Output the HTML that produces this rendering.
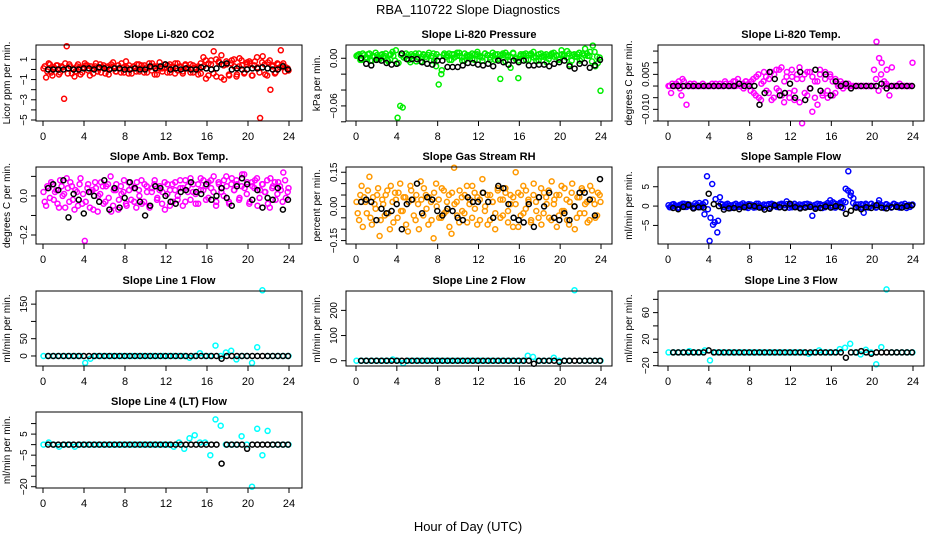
<!DOCTYPE html>
<html><head><meta charset="utf-8"><style>
html,body{margin:0;padding:0;background:#fff;}
svg{display:block;font-family:"Liberation Sans",sans-serif;}
</style></head><body>
<svg id="c" width="936" height="540" viewBox="0 0 936 540">
<text x="468" y="14" text-anchor="middle" font-size="13">RBA_110722  Slope Diagnostics</text>
<text x="468" y="531" text-anchor="middle" font-size="13">Hour of Day (UTC)</text>
</svg>
<script>
const xTicks=[0,4,8,12,16,20,24];
const co2Color=[0.1,-0.8,0.6,-0.3,0.2,0.4,-0.5,0.3,-2.9,2.3,0.5,-0.4,-0.7,0.3,0.2,-0.3,0.6,0.4,-0.6,0.1,0.3,-0.2,0.5,0.2,-0.4,0.3,0.1,0.7,-0.2,0.4,-0.3,0.2,0.8,-0.4,0.1,0.3,-0.2,0.5,0.4,-0.3,0.2,0.6,-0.1,0.3,-0.5,0.7,0.1,0.2,-0.3,0.5,0.3,-0.4,0.6,0.2,-0.2,0.4,0.1,0.5,-0.3,0.2,0.3,-0.4,1.2,-0.9,0.6,0.9,1.8,-0.7,0.8,1.4,-1.0,0.5,-0.6,0.9,0.3,-0.5,1.1,0.4,-0.3,0.7,0.6,-0.6,0.8,0.2,-4.8,1.3,-0.5,0.7,-2.0,0.4,-0.3,0.5,1.9,0.6,0.2,-0.1];
const co2Color2=[0.3,-0.2,0.5,-0.6,0.1,0.4,-0.3,0.2,0.6,-0.4,0.3,0.1,-0.2,0.5,-0.5,0.2,0.4,-0.1,0.3,-0.4,0.6,0.1,-0.3,0.4,0.2,-0.5,0.5,0.3,-0.2,0.1,0.6,-0.3,0.2,0.4,-0.4,0.3,0.5,-0.2,0.1,0.4,-0.3,0.2,0.6,-0.5,0.3,0.1,-0.2,0.5,0.4,-0.3,0.2,0.6,-0.1,0.3,-0.4,0.5,0.2,-0.3,0.4,0.1,-0.5,0.6,0.3,0.9,-0.6,0.5,-0.4,1.0,0.7,-0.8,0.4,0.8,-0.5,0.6,1.0,-0.7,0.3,0.9,-0.4,0.5,0.8,-0.6,0.4,1.2,-0.3,0.7,0.5,-0.6,0.9,0.3,-0.4,0.6,0.2,0.4,-0.2,0.1];
const co2Black=[0,0,0,0,0.1,0,0,0.1,0.1,0,0.2,0.1,0,0.1,0.1,0,0,0.1,0,0,0.3,0.1,0.3,0.5,0,0.1,0,0.1,0,0,0.2,0.1,0,0.1,0.5,0.6,0,0.1,0,0,0.1,0.1,0.2,0.1,0,0,0.3,0];
const presColor=[0.003,0.005,-0.002,0.004,0.001,0.006,-0.003,0.002,0.004,-0.001,0.005,0.003,-0.002,0.004,0.008,-0.003,-0.075,-0.06,-0.062,0.002,0.004,-0.005,0.003,0.006,0.001,-0.004,0.005,0.002,0.004,-0.003,0.006,-0.01,-0.033,-0.02,0.004,0.002,0.006,-0.002,0.005,0.003,0.007,0.001,-0.003,0.004,0.002,0.006,-0.002,0.005,0.003,0.001,0.006,0.004,-0.002,0.003,0.005,-0.001,-0.026,0.004,0.007,0.002,-0.012,0.006,-0.001,-0.025,0.003,0.005,-0.002,0.004,0.006,0.001,-0.003,0.005,0.002,0.004,-0.005,0.003,0.006,0.002,0.004,-0.001,0.005,0.003,0.009,-0.008,0.004,0.002,0.005,-0.003,0.006,0.012,0.003,0.008,0.016,-0.01,-0.006,-0.041];
const presColor2=[0.004,-0.002,0.006,0.001,0.005,-0.003,0.003,0.007,-0.001,0.004,0.002,0.006,-0.004,0.005,0.003,0.010,-0.006,0.004,0.001,0.006,-0.002,0.005,0.003,-0.004,0.006,0.002,0.004,-0.001,0.007,0.003,-0.003,0.005,0.002,-0.015,0.006,0.004,-0.002,0.005,0.001,0.007,0.003,-0.003,0.006,0.002,0.004,-0.001,0.005,0.008,0.002,-0.003,0.006,0.004,0.001,0.007,-0.002,0.005,0.003,0.006,-0.004,0.004,0.002,0.007,0.001,-0.003,0.005,0.003,0.006,-0.002,0.004,0.008,0.001,-0.003,0.006,0.002,0.005,-0.001,0.004,0.007,0.003,-0.002,0.010,0.004,0.001,0.006,-0.003,0.005,0.002,0.007,-0.001,0.004,0.006,0.003,-0.004,0.008,0.002,0.001];
const presBlack=[0.0,-0.007,-0.009,-0.002,-0.003,-0.006,-0.008,-0.007,0.006,-0.001,-0.001,-0.001,-0.005,-0.007,-0.008,-0.003,-0.003,-0.011,-0.011,-0.011,-0.009,-0.006,-0.006,-0.008,-0.009,-0.007,-0.01,-0.003,-0.005,-0.008,-0.003,-0.005,-0.003,-0.009,-0.009,-0.008,-0.008,-0.01,-0.007,-0.005,-0.003,-0.01,-0.013,-0.007,-0.006,-0.012,-0.009,-0.002];
const tempColor=[0,-0.003,0,0.001,0.002,-0.004,0.002,-0.008,0,0,0.001,0,0,0,0,0,0,0.001,0,0,0.001,0,0.002,0,0.001,0,0.002,0.003,0,0.001,0.002,0,-0.002,0.003,-0.004,0.005,-0.006,0.002,0.004,-0.003,0.006,-0.005,0.007,-0.002,0.008,-0.007,0.004,-0.003,0.007,-0.006,0.003,0.008,-0.016,0.005,-0.004,0.006,-0.011,0.002,-0.008,0.005,-0.003,0.006,-0.005,0.004,-0.004,0.003,0,0.002,-0.001,0,0.001,0,0,0,0,0,0,0,0,0,0.007,0.019,0.012,0.01,0.002,0.007,-0.004,0.008,0,0,0.001,0,0,0,0,0.01];
const tempColor2=[0,0.001,0,0,-0.001,0.003,0,0,0.001,0,0,0,0,0.001,0,0,0,0,0.001,0,0,0,0.001,0,0,0.002,0,0.001,0,-0.001,0.002,0.001,0.002,-0.003,0.004,-0.005,0.001,0.006,-0.002,0.003,-0.006,0.005,-0.001,0.007,-0.004,0.002,0.006,-0.005,0.004,-0.002,0.005,-0.007,0.003,-0.003,0.006,-0.001,0.004,-0.005,0.002,0.007,-0.004,0.003,-0.002,0.005,0.002,-0.003,0.001,0,0.001,0,0,0,0,0,0,0,0,0,0,0,0,0.003,-0.002,0.005,0,0.001,0,0,0,0,0,0,0,0,0,0];
const tempBlack=[0,0,0,0,0,0,0,0,0,0,0,0,0,0.001,0,0,0,-0.008,-0.003,0.006,0.003,-0.004,-0.003,0.001,-0.005,0.006,-0.006,-0.001,0.007,-0.002,0.005,-0.004,0.002,0,0.001,-0.001,0,0,0,0,0,0.001,-0.001,0,0,0,0,0];
const ambColor=[0.02,-0.05,0.04,0.07,-0.02,0.03,-0.06,0.05,0.01,0.09,-0.03,0.05,-0.07,0.02,0.06,-0.04,-0.23,0.04,-0.06,0.03,0.07,-0.08,0.01,0.05,-0.03,0.06,0.1,-0.05,0.03,-0.07,0.05,0.02,-0.04,0.07,-0.02,0.04,-0.06,0.03,0.08,-0.03,0.05,-0.05,0.02,0.06,-0.02,0.03,-0.04,0.07,0.01,-0.05,0.06,0.03,-0.02,0.08,0.04,-0.03,0.05,0.09,0.02,-0.04,0.06,0.03,0.08,-0.02,0.07,0.04,0.1,-0.03,0.06,0.02,0.08,0.05,-0.04,0.09,0.03,0.06,-0.01,0.11,0.04,0.07,-0.03,0.05,0.08,-0.05,0.03,0.06,0.02,-0.04,0.09,0.05,-0.02,0.07,0.03,0.12,-0.01,0.04];
const ambColor2=[-0.03,0.05,-0.01,0.06,0.02,-0.04,0.08,0.0,-0.06,0.04,0.07,-0.02,0.03,-0.05,0.09,0.01,-0.03,0.06,0.02,-0.07,0.04,0.0,0.07,-0.04,0.05,-0.01,-0.08,0.03,0.06,-0.02,0.01,0.08,-0.05,0.03,0.05,-0.03,0.07,0.0,-0.04,0.06,0.02,-0.06,0.04,0.08,-0.01,0.05,0.02,-0.07,0.06,0.03,-0.03,0.07,0.0,0.04,-0.05,0.08,0.02,-0.02,0.06,0.01,-0.04,0.09,0.03,0.05,-0.01,0.08,0.02,-0.05,0.07,0.04,0.0,0.1,-0.03,0.06,0.03,0.08,-0.02,0.05,0.11,0.01,-0.04,0.07,0.04,0.09,-0.01,0.06,0.02,0.08,-0.06,0.04,0.07,0.01,0.05,-0.03,0.08,0.02];
const ambBlack=[0.04,0.06,0.03,0.08,-0.11,0.01,-0.02,-0.09,0.02,0.0,-0.03,0.08,-0.07,0.04,-0.06,-0.01,0.07,0.04,-0.03,-0.1,-0.05,0.05,0.04,0.0,-0.03,-0.04,0.02,0.03,0.07,0.02,0.01,0.06,-0.02,0.0,0.04,-0.01,-0.05,0.05,0.09,0.06,-0.02,0.03,-0.06,-0.01,-0.02,0.04,-0.07,-0.02];
const rhColor=[0.02,-0.06,0.09,0.04,-0.03,0.13,-0.08,0.01,0.05,-0.13,0.03,-0.04,0.07,-0.1,0.02,0.06,-0.05,0.1,-0.02,0.04,-0.11,0.09,0.03,-0.06,0.01,0.11,-0.04,0.05,-0.08,0.02,-0.14,0.1,0.03,-0.05,0.07,-0.02,0.05,-0.12,0.17,0.02,-0.07,0.04,-0.03,0.09,0.01,-0.05,0.06,-0.08,0.03,0.12,-0.02,0.05,-0.06,0.02,-0.1,0.08,0.03,-0.04,0.06,-0.07,0.01,0.04,0.15,-0.09,0.05,-0.03,0.07,0.02,-0.06,0.1,-0.02,0.04,-0.08,0.06,0.01,-0.05,0.11,0.03,-0.09,0.05,-0.02,0.08,-0.06,0.02,0.1,-0.1,0.04,-0.03,0.07,0.01,-0.07,0.09,0.03,-0.05,0.06,0.02];
const rhColor2=[-0.03,0.05,-0.09,0.02,0.07,-0.05,0.04,-0.01,0.08,-0.06,0.01,0.05,-0.03,0.09,-0.07,0.03,0.06,-0.02,0.04,-0.08,0.02,0.07,-0.04,0.05,-0.1,0.03,0.08,-0.01,0.04,-0.06,0.06,0.0,-0.05,0.08,-0.03,0.02,-0.09,0.06,0.01,-0.04,0.07,-0.02,0.05,-0.07,0.03,0.09,-0.01,0.04,-0.06,0.06,0.0,-0.08,0.05,0.02,-0.03,0.07,-0.05,0.03,0.08,-0.02,0.05,-0.09,0.01,0.06,-0.04,0.09,-0.01,0.03,-0.07,0.05,0.02,-0.05,0.08,-0.03,0.04,0.07,-0.06,0.01,0.05,-0.04,0.09,-0.02,0.03,-0.08,0.06,0.0,-0.05,0.04,0.08,-0.03,0.02,-0.06,0.07,0.01,-0.04,0.05];
const rhBlack=[0.02,0.03,0.02,-0.06,-0.01,-0.03,-0.02,0.01,-0.1,0.01,0.03,0.1,-0.03,0.04,0.03,-0.02,-0.04,-0.01,-0.02,-0.05,-0.06,0.04,0.02,0.02,0.06,0.02,-0.05,0.09,0.08,0.01,-0.05,-0.06,-0.07,0.01,-0.09,0.04,0.0,0.06,-0.05,-0.06,-0.03,-0.06,0.0,0.06,0.06,0.03,-0.04,0.12];
const sampColor=[0.2,-0.3,0.5,0.1,-0.4,0.3,0.6,-0.2,0.4,0.1,-0.5,0.3,0.8,-0.1,-2.1,7.7,-9.0,5.7,-4.2,-6.8,2.3,0.4,-0.3,0.6,0.2,-0.4,0.5,0.1,-0.2,0.7,0.3,-0.5,0.4,0.2,-0.3,0.6,0.1,-0.4,0.3,0.5,-0.2,0.4,0.1,-0.3,0.6,0.2,1.2,-0.4,0.3,0.5,-0.2,0.4,0.1,-0.3,0.6,0.2,-2.5,0.3,-0.4,0.5,0.2,-0.3,0.8,0.1,1.0,-0.4,0.3,0.6,1.3,4.5,9.0,3.5,2.0,0.4,-0.3,0.5,-1.7,0.2,-0.4,0.6,0.1,-0.3,1.5,0.2,-0.5,0.4,0.1,-0.3,0.5,0.2,-0.4,0.3,0.6,0.1,-0.2,0.4];
const sampColor2=[-0.3,0.4,0.1,-0.5,0.3,0.6,-0.2,0.5,0.1,-0.4,0.7,0.2,-0.3,0.5,1.0,-0.8,-3.0,-4.8,1.8,-3.8,0.6,-0.2,0.4,0.1,-0.5,0.3,0.6,-0.2,0.4,0.1,-0.3,0.5,0.2,-0.4,0.6,0.1,-0.3,0.4,0.2,-0.5,0.6,0.1,-0.2,0.4,0.3,-0.4,0.5,0.2,-0.3,0.6,0.1,-0.4,0.3,0.5,-0.2,0.4,0.1,-0.3,0.6,0.2,-0.5,0.4,0.1,1.5,-0.3,0.6,0.2,0.9,-0.5,1.0,4.0,2.7,0.8,-0.2,0.4,-0.4,0.3,0.6,-0.3,0.5,0.1,-0.4,0.7,0.2,-0.3,0.5,0.1,-0.4,0.6,0.2,-0.3,0.4,0.1,-0.5,0.3,0.2];
const sampBlack=[-0.5,-0.8,-0.2,0.3,-0.6,-0.3,-0.4,3.2,0.5,0.0,-0.9,-0.6,-0.5,-0.8,-0.3,0.1,0.0,-0.4,-0.9,-0.7,0.2,-0.3,-0.5,0.6,-0.3,-0.6,-0.4,-0.2,-0.7,-0.5,-0.1,-0.4,0.0,-0.3,-2.0,-1.2,-0.4,-0.8,-0.3,-0.5,0.2,-0.4,-0.6,-0.3,-0.2,-0.4,0.0,0.2];
const line1Color=[0,0,0,0,0,0,0,0,-20,-8,0,0,0,0,0,0,0,0,0,0,0,0,0,0,0,0,0,0,-5,0,8,0,0,30,0,10,15,-10,0,0,-20,25,190,0,0,0,0,0];
const line1Black=[0,0,0,0,0,0,0,0,0,0,0,0,0,0,0,0,0,0,0,0,0,0,0,0,0,0,0,0,0,0,0,0,0,0,-8,0,0,0,0,0,0,0,0,0,0,0,0,0];
const line2Color=[0,0,0,0,0,0,0,5,0,-10,0,0,0,0,0,0,0,0,0,0,0,0,0,0,0,0,0,0,0,0,0,0,0,20,15,0,0,0,12,0,0,0,280,0,0,0,0,0];
const line2Black=[0,0,0,0,0,0,0,0,0,0,0,0,0,0,0,0,0,0,0,0,0,0,0,0,0,0,0,0,0,0,0,0,0,0,-12,0,0,0,0,-5,0,0,0,0,0,0,0,0];
const line3Color=[0,0,0,0,2,0,0,3,-12,0,0,0,0,0,0,0,0,0,0,0,0,0,0,0,0,0,0,-2,0,3,0,0,0,5,7,13,0,-3,4,0,-18,8,95,0,0,0,0,0];
const line3Black=[0,0,0,0,0,0,0,3,0,0,0,0,0,0,0,0,0,0,0,0,0,0,0,0,0,0,0,0,0,0,0,0,0,0,-8,0,0,2,0,-2,0,0,0,0,0,0,0,0];
const line4Color=[0,1,0,-1,0,0,-1,0,0,0,0,0,0,0,0,0,0,0,0,0,0,0,0,0,0,-1,1,-2,3,4.5,1,1,-5,12,9,0,0,0,4,0,-20,7.5,-5,6.5,0,0,0,0];
const line4Black=[0,0,0,0,0,0,0,0,0,0,0,0,0,0,0,0,0,0,0,0,0,0,0,0,0,0,0,0,0,0,0,0,0,0,-9,0,0,0,0,-2,0,0,0,0,0,0,0,0];

const COLS=[{x0:36,x1:302,t0:43,t24:289},{x0:346,x1:612,t0:356,t24:601},{x0:658,x1:924,t0:668,t24:913}];
const ROWS=[{y0:45,y1:121},{y0:167,y1:244},{y0:291,y1:366},{y0:412,y1:488}];
const panels=[
 {name:'co2',title:'Slope Li-820 CO2',yl:'Licor ppm per min.',c:0,r:0,lo:-5.1,hi:2.42,ticks:[-5,-4,-3,-2,-1,0,1],labels:[-5,-3,-1,1],fmt:0,col:'#ff0000',cs:co2Color,cs2:co2Color2,bs:co2Black},
 {name:'pressure',title:'Slope Li-820 Pressure',yl:'kPa per min.',c:1,r:0,lo:-0.079,hi:0.0167,ticks:[-0.08,-0.06,-0.04,-0.02,0],labels:[-0.06,0],fmt:2,col:'#00ee00',cs:presColor,cs2:presColor2,bs:presBlack},
 {name:'temp',title:'Slope Li-820 Temp.',yl:'degrees C per min.',c:2,r:0,lo:-0.015,hi:0.0176,ticks:[-0.015,-0.01,-0.005,0,0.005,0.01,0.015],labels:[-0.01,0.005],fmt:3,col:'#ff00ff',cs:tempColor,cs2:tempColor2,bs:tempBlack},
 {name:'amb-box-temp',title:'Slope Amb. Box Temp.',yl:'degrees C per min.',c:0,r:1,lo:-0.246,hi:0.148,ticks:[-0.2,-0.1,0,0.1],labels:[-0.2,0],fmt:1,col:'#ff00ff',cs:ambColor,cs2:ambColor2,bs:ambBlack},
 {name:'gas-stream-rh',title:'Slope Gas Stream RH',yl:'percent per min.',c:1,r:1,lo:-0.165,hi:0.173,ticks:[-0.15,-0.1,-0.05,0,0.05,0.1,0.15],labels:[-0.15,0,0.15],fmt:2,col:'#ff9900',cs:rhColor,cs2:rhColor2,bs:rhBlack},
 {name:'sample-flow',title:'Slope Sample Flow',yl:'ml/min per min.',c:2,r:1,lo:-9.8,hi:10.1,ticks:[-5,0,5],labels:[-5,0,5],fmt:0,col:'#0000ff',cs:sampColor,cs2:sampColor2,bs:sampBlack},
 {name:'line1-flow',title:'Slope Line 1 Flow',yl:'ml/min per min.',c:0,r:2,lo:-29,hi:188,ticks:[0,50,100,150],labels:[0,50,150],fmt:0,col:'#00ffff',cs:line1Color,cs2:[],bs:line1Black},
 {name:'line2-flow',title:'Slope Line 2 Flow',yl:'ml/min per min.',c:1,r:2,lo:-21,hi:277,ticks:[0,100,200],labels:[0,100,200],fmt:0,col:'#00ffff',cs:line2Color,cs2:[],bs:line2Black},
 {name:'line3-flow',title:'Slope Line 3 Flow',yl:'ml/min per min.',c:2,r:2,lo:-20.5,hi:92.6,ticks:[-20,0,20,40,60,80],labels:[-20,20,60],fmt:0,col:'#00ffff',cs:line3Color,cs2:[],bs:line3Black},
 {name:'line4-flow',title:'Slope Line 4 (LT) Flow',yl:'ml/min per min.',c:0,r:3,lo:-20.6,hi:15.5,ticks:[-20,-15,-10,-5,0,5,10],labels:[-20,-5,5],fmt:0,col:'#00ffff',cs:line4Color,cs2:[],bs:line4Black}
];
const NS='http://www.w3.org/2000/svg';
const svg=document.getElementById('c');
function mk(tag,attrs,parent){const e=document.createElementNS(NS,tag);for(const k in attrs)e.setAttribute(k,attrs[k]);parent.appendChild(e);return e;}
panels.forEach(p=>{
 const C=COLS[p.c],R=ROWS[p.r];
 const g=mk('g',{},svg);
 
 
 const xs=t=>C.t0+(C.t24-C.t0)*t/24;
 const ys=v=>R.y1-(v-p.lo)/(p.hi-p.lo)*(R.y1-R.y0);
 const cx=(C.x0+C.x1)/2;
 const tt=mk('text',{x:cx,y:R.y0-7,'text-anchor':'middle','font-size':'11','font-weight':'bold'},g);
 tt.textContent=p.title;
 
 
 const pg=mk('g',{fill:'none','stroke-width':'1.5'},g);
 
 
 const n=p.cs.length;
 p.cs.forEach((v,i)=>{
  const t=0.05+i*23.9/(n-1);
  const c=mk('circle',{cx:xs(t).toFixed(1),cy:ys(v).toFixed(1),r:'2.5',stroke:p.col},pg);
  
  
 });
 const n2=p.cs2.length;
 p.cs2.forEach((v,i)=>{
  const t=0.17+i*23.7/(n2-1);
  const c=mk('circle',{cx:xs(t).toFixed(1),cy:ys(v).toFixed(1),r:'2.5',stroke:p.col},pg);
  
  
 });
 const m=p.bs.length;
 p.bs.forEach((v,i)=>{
  const t=0.5+i*23.4/(m-1);
  const c=mk('circle',{cx:xs(t).toFixed(1),cy:ys(v).toFixed(1),r:'2.5',stroke:'#000'},pg);
  
  
 });
 const box=mk('rect',{x:C.x0,y:R.y0,width:C.x1-C.x0,height:R.y1-R.y0,fill:'none',stroke:'#000','stroke-width':'1'},g);
 
 
 const xa=mk('g',{},g);
 
 
 xTicks.forEach(t=>{
  mk('line',{x1:xs(t),x2:xs(t),y1:R.y1,y2:R.y1+5,stroke:'#000'},xa);
  const l=mk('text',{x:xs(t),y:R.y1+19,'text-anchor':'middle','font-size':'11'},xa);
  l.textContent=t;
 });
 const ya=mk('g',{},g);
 
 
 p.ticks.forEach(v=>{const y=ys(v);mk('line',{x1:C.x0-5,x2:C.x0,y1:y,y2:y,stroke:'#000'},ya);});
 p.labels.forEach(v=>{
  const y=ys(v),x=C.x0-9;
  const l=mk('text',{x:x,y:y,'text-anchor':'middle','font-size':'10',transform:`rotate(-90 ${x} ${y})`},ya);
  l.textContent=(v<0?'\u2212':'')+Math.abs(v).toFixed(p.fmt);
 });
 const yx=C.x0-26,yy=(R.y0+R.y1)/2;
 const yt=mk('text',{x:yx,y:yy,'text-anchor':'middle','font-size':'10',transform:`rotate(-90 ${yx} ${yy})`},g);
 yt.textContent=p.yl;
 
 
});
</script>
</body></html>
